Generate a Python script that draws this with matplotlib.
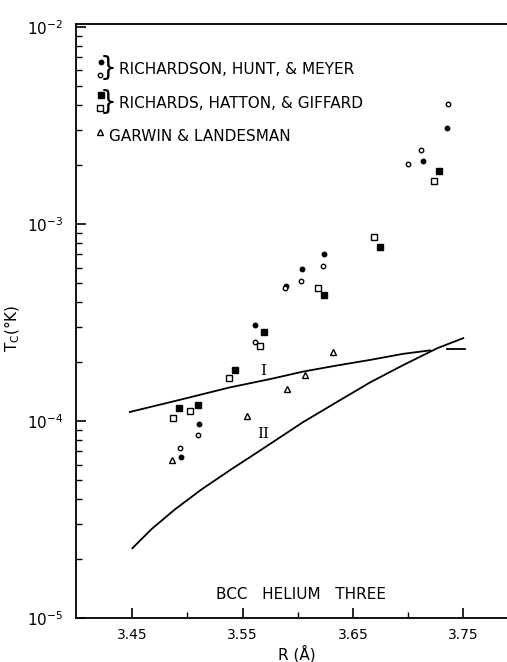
import matplotlib
matplotlib.use("Agg")
import matplotlib.pyplot as plt
from matplotlib.ticker import FixedLocator, NullFormatter, LogLocator


# Richardson, Hunt & Meyer (filled and open circles)
rhm_filled_r = [3.7355, 3.713, 3.6235, 3.604, 3.5892, 3.561, 3.5106, 3.4943]
rhm_filled_t = [3.08e-3, 2.09e-3, 7.02e-4, 5.93e-4, 4.81e-4, 3.07e-4, 9.62e-5, 6.59e-5]
rhm_open_r = [3.7357, 3.712, 3.700, 3.6231, 3.6027, 3.5883, 3.5613, 3.5097, 3.4934]
rhm_open_t = [4.08e-3, 2.36e-3, 2.02e-3, 6.12e-4, 5.14e-4, 4.70e-4, 2.52e-4, 8.49e-5, 7.30e-5]

# Richards, Hatton & Giffard (filled and open squares)
rhg_filled_r = [3.7275, 3.6747, 3.6238, 3.5697, 3.5432, 3.5095, 3.4925]
rhg_filled_t = [1.86e-3, 7.67e-4, 4.35e-4, 2.82e-4, 1.82e-4, 1.21e-4, 1.16e-4]
rhg_open_r = [3.7236, 3.6687, 3.6186, 3.5661, 3.5375, 3.5022, 3.4874]
rhg_open_t = [1.65e-3, 8.59e-4, 4.75e-4, 2.41e-4, 1.65e-4, 1.12e-4, 1.03e-4]

# Garwin & Landesman (triangles)
gl_r = [3.6316, 3.6066, 3.590, 3.5543, 3.4865]
gl_t = [2.25e-4, 1.71e-4, 1.45e-4, 1.06e-4, 6.31e-5]

# theory curves I and II
curve1_r = [3.448, 3.4934, 3.5387, 3.5749, 3.605, 3.6352, 3.6656, 3.6955, 3.7197]
curve1_t = [1.11e-4, 1.28e-4, 1.48e-4, 1.63e-4, 1.78e-4, 1.91e-4, 2.04e-4, 2.19e-4, 2.28e-4]
curve1_tail_r = [3.7355, 3.7514]
curve1_tail_t = [2.32e-4, 2.32e-4]
curve2_r = [3.4503, 3.4678, 3.4889, 3.5131, 3.5402, 3.5643, 3.6048, 3.6352,
	3.6656, 3.6955, 3.7264, 3.7498]
curve2_t = [2.26e-5, 2.83e-5, 3.56e-5, 4.50e-5, 5.70e-5, 6.98e-5, 9.86e-5, 1.245e-4,
	1.57e-4, 1.92e-4, 2.34e-4, 2.63e-4]

x_major = [3.45, 3.55, 3.65, 3.75]
x_minor = [3.50, 3.60, 3.70]
x_labels = ["3.45", "3.55", "3.65", "3.75"]
y_major = [1e-5, 1e-4, 1e-3, 1e-2]
y_labels = [r"$10^{-5}$", r"$10^{-4}$", r"$10^{-3}$", r"$10^{-2}$"]


fig = plt.figure(figsize=(5.07, 6.62), dpi=100)
ax = fig.add_axes([0.150, 0.0665, 0.850, 0.8975])
ax.set_yscale("log")
ax.set_xlim(3.3993, 3.7894)
ax.set_ylim(1e-5, 1.035e-2)

ax.plot(curve1_r, curve1_t, color="black", lw=1.3)
ax.plot(curve1_tail_r, curve1_tail_t, color="black", lw=1.3)
ax.plot(curve2_r, curve2_t, color="black", lw=1.3)

ax.plot(rhm_filled_r, rhm_filled_t, "o", ms=3.2, mfc="black", mec="black", ls="none")
ax.plot(rhm_open_r, rhm_open_t, "o", ms=3.2, mfc="white", mec="black", mew=1.0, ls="none")
ax.plot(rhg_filled_r, rhg_filled_t, "s", ms=4.3, mfc="black", mec="black", ls="none")
ax.plot(rhg_open_r, rhg_open_t, "s", ms=4.3, mfc="white", mec="black", mew=1.0, ls="none")
ax.plot(gl_r, gl_t, "^", ms=5, mfc="white", mec="black", mew=1.0, ls="none")

ax.text(3.5683, 1.80e-4, "I", family="DejaVu Serif", fontsize=11, ha="center", va="center")
ax.text(3.5688, 8.57e-5, "II", family="DejaVu Serif", fontsize=11, ha="center", va="center")

# legend drawn by hand, like the original
tr = ax.transAxes
ax.plot([0.0573], [0.935], "o", ms=3.2, mfc="black", mec="black", transform=tr)
ax.plot([0.0557], [0.914], "o", ms=3.2, mfc="white", mec="black", mew=1.0, transform=tr)
ax.plot([0.0573], [0.8805], "s", ms=4.3, mfc="black", mec="black", transform=tr)
ax.plot([0.0557], [0.858], "s", ms=4.3, mfc="white", mec="black", mew=1.0, transform=tr)
ax.plot([0.0557], [0.8187], "^", ms=5, mfc="white", mec="black", mew=1.0, transform=tr)
ax.text(0.074, 0.925, "}", fontsize=19, ha="center", va="center", transform=tr)
ax.text(0.074, 0.869, "}", fontsize=19, ha="center", va="center", transform=tr)
ax.text(0.0998, 0.9226, "RICHARDSON, HUNT, & MEYER", fontsize=11, va="center", transform=tr)
ax.text(0.0998, 0.8658, "RICHARDS, HATTON, & GIFFARD", fontsize=11, va="center", transform=tr)
ax.text(0.0766, 0.811, "GARWIN & LANDESMAN", fontsize=11, va="center", transform=tr)
ax.text(0.522, 0.040, "BCC   HELIUM   THREE", fontsize=11, ha="center", va="center", transform=tr)

ax.xaxis.set_major_locator(FixedLocator(x_major))
ax.xaxis.set_minor_locator(FixedLocator(x_minor))
ax.set_xticklabels(x_labels)
ax.yaxis.set_major_locator(FixedLocator(y_major))
ax.yaxis.set_minor_locator(LogLocator(base=10, subs=range(2, 10)))
ax.yaxis.set_minor_formatter(NullFormatter())
ax.set_yticklabels(y_labels)

ax.tick_params(axis="both", which="major", direction="in", length=7, width=1.2)
ax.tick_params(axis="both", which="minor", direction="in", length=4, width=1.0)
ax.tick_params(axis="x", which="major", labelsize=10, pad=7)
ax.tick_params(axis="y", which="major", labelsize=11, pad=9)

ax.spines["right"].set_visible(False)
for s in ["left", "top", "bottom"]:
	ax.spines[s].set_linewidth(1.3)

ax.set_xlabel("R (Å)", fontsize=11)
ax.xaxis.set_label_coords(0.513, -0.046)
ax.set_ylabel(r"T$_{\rm C}$(°K)", fontsize=11)
ax.yaxis.set_label_coords(-0.125, 0.488)

fig.savefig("out.png", dpi=100)
